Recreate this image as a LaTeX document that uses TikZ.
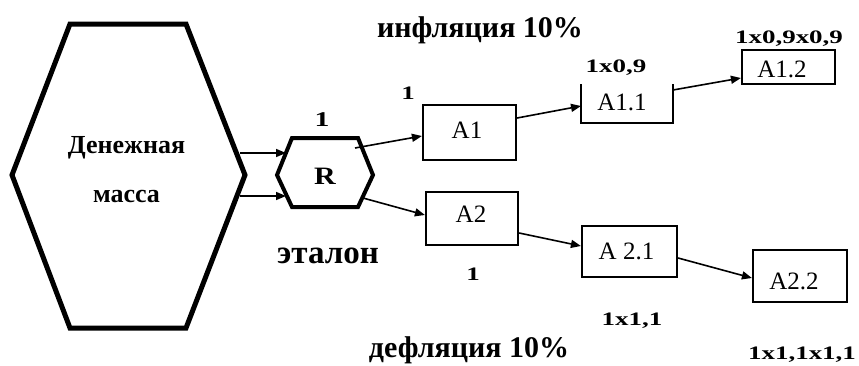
\documentclass[tikz,border=0pt]{standalone}
\usepackage{graphicx}
\usepackage{fontspec}
\setmainfont{Liberation Serif}
\usetikzlibrary{arrows.meta,calc}
\newcommand{\widetext}[1]{\scalebox{1.42}[1]{#1}}
\begin{document}
\begin{tikzpicture}[x=1pt,y=-1pt,
  box/.style={draw,line width=2.2pt,inner sep=0pt,font=\fontsize{25}{28}\selectfont},
  boxtext/.style={inner sep=0pt,font=\fontsize{25}{28}\selectfont},
  lbl/.style={inner sep=0pt,anchor=base,font=\bfseries\fontsize{19}{22}\selectfont},
  big/.style={inner sep=0pt,anchor=base,font=\bfseries\fontsize{30}{34}\selectfont},
  arr/.style={line width=1.6pt,-{Triangle[length=10pt,width=8pt]}}]
\useasboundingbox (0,0) rectangle (859,365);
% money mass hexagon
\draw[line width=5pt,line join=miter] (12,175) -- (70,24) -- (186,24) -- (245,175) -- (186,328) -- (70,328) -- cycle;
\node[inner sep=0pt,anchor=base,font=\bfseries\fontsize{26}{30}\selectfont] (mass1) at (126.5,153) {Денежная};
\node[inner sep=0pt,anchor=base,font=\bfseries\fontsize{26}{30}\selectfont] (mass2) at (126.5,202) {масса};
\coordinate (m1) at (240,153);
\coordinate (m2) at (240,196);
% standard hexagon R
\draw[line width=4pt,line join=miter] (277,175) -- (292,138) -- (358,138) -- (373,175) -- (358,207) -- (292,207) -- cycle;
\node[inner sep=0pt,anchor=base,font=\bfseries\fontsize{25}{28}\selectfont] (R) at (325,184) {\scalebox{1.2}[1]{R}};
\coordinate (r1) at (286,153);
\coordinate (r2) at (286,196);
\coordinate (rout1) at (355,148);
\coordinate (rout2) at (363,198);
\node[lbl,font=\bfseries\fontsize{21}{24}\selectfont] (one0) at (322,126) {\widetext{1}};
\node[inner sep=0pt,anchor=base,font=\bfseries\fontsize{33}{36}\selectfont] (etalon) at (328,263) {эталон};
% boxes
\node[box,minimum width=93pt,minimum height=55pt] (A1) at (469.5,132.5) {};
\node[boxtext] (tA1) at (467,130) {A1};
\node[box,minimum width=93pt,minimum height=34pt] (A12) at (788.5,67) {};
\node[boxtext] (tA12) at (782,69) {A1.2};
\node[box,minimum width=92pt,minimum height=53pt] (A2) at (472,218.5) {};
\node[boxtext] (tA2) at (471,214) {A2};
\node[box,minimum width=95pt,minimum height=51pt] (A21) at (629.5,251.5) {};
\node[boxtext] (tA21) at (626.5,251) {A 2.1};
\node[box,minimum width=94pt,minimum height=52pt] (A22) at (800,276) {};
\node[boxtext] (tA22) at (794,281) {A2.2};
% open-top box A1.1
\draw[line width=2.2pt] (581,84) -- (581,123) -- (673,123) -- (673,84);
\node[boxtext] (A11) at (622,102) {A1.1};
\coordinate (a11in) at (581,106);
\coordinate (a11out) at (673,90);
% labels
\node[big] (infl) at (480,37) {инфляция 10\%};
\node[big] (defl) at (469,357) {дефляция 10\%};
\node[lbl] (one1) at (408,99) {\widetext{1}};
\node[lbl] (one2) at (473,280) {\widetext{1}};
\node[lbl] (v11) at (616,72) {\widetext{1x0,9}};
\node[lbl] (v12) at (789,43) {\widetext{1x0,9x0,9}};
\node[lbl] (v21) at (632,325) {\widetext{1x1,1}};
\node[lbl] (v22) at (802,359) {\widetext{1x1,1x1,1}};
% connectors
\draw[arr] (m1) -- (r1);
\draw[arr] (m2) -- (r2);
\draw[arr] (rout1) -- ([yshift=-3.5pt]A1.west);
\draw[arr] (rout2) -- ([yshift=3.5pt]A2.west);
\draw[arr] ([yshift=14.5pt]A1.east) -- (a11in);
\draw[arr] (a11out) -- ([yshift=-11pt]A12.west);
\draw[arr] ([yshift=-14.5pt]A2.east) -- ([yshift=5.5pt]A21.west);
\draw[arr] ([yshift=-6.5pt]A21.east) -- ([yshift=-2pt]A22.west);
\end{tikzpicture}
\end{document}
